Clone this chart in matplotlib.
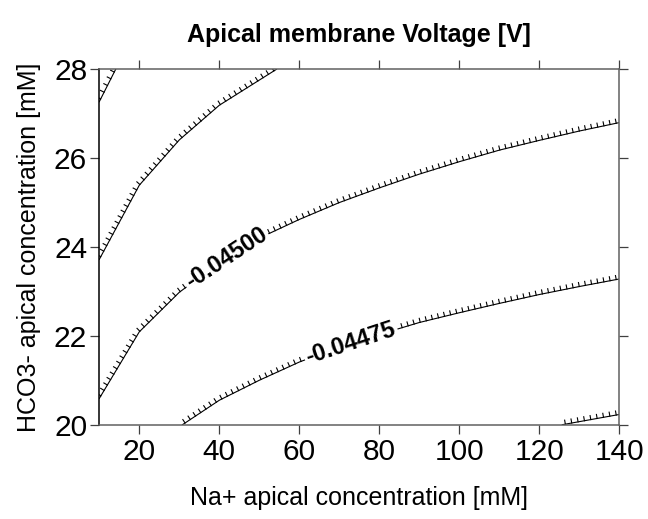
import numpy as np
import matplotlib
matplotlib.use("Agg")
import matplotlib.pyplot as plt
from matplotlib import patheffects

plt.rcParams['font.family'] = ['Liberation Sans', 'DejaVu Sans']

# contour lines of the apical membrane voltage
# (Na+ in mM along x, HCO3- in mM along y)
levels = [-0.04550, -0.04525, -0.04500, -0.04475, -0.04450]

na_4550 = [10, 14.1]
hco3_4550 = [27.27, 28.0]

na_4525 = [10, 20, 30, 40, 54.3]
hco3_4525 = [23.72, 25.39, 26.41, 27.19, 28.0]

na_4500 = [10, 20, 30, 40, 50, 60, 70, 80, 90, 100, 110, 120, 130, 140]
hco3_4500 = [20.59, 22.09, 22.98, 23.65, 24.2, 24.62, 25.0, 25.33, 25.64,
             25.92, 26.18, 26.4, 26.61, 26.8]

na_4475 = [30.8, 40, 50, 60, 70, 80, 90, 100, 110, 120, 130, 140]
hco3_4475 = [20.0, 20.55, 21.0, 21.41, 21.75, 22.03, 22.3, 22.52, 22.73,
             22.93, 23.11, 23.28]

na_4450 = [125.75, 140]
hco3_4450 = [20.0, 20.23]

lines_x = [na_4550, na_4525, na_4500, na_4475, na_4450]
lines_y = [hco3_4550, hco3_4525, hco3_4500, hco3_4475, hco3_4450]

# which lines carry a label, and where along x
label_lines = [2, 3]
label_at = [41.7, 72.9]

xticks = [20, 40, 60, 80, 100, 120, 140]
yticks = [20, 22, 24, 26, 28]

fig = plt.figure(figsize=(6.48, 5.19), dpi=100)
ax = fig.add_axes([0.1532, 0.1817, 0.8025, 0.6848])

ticked = [patheffects.withTickedStroke(angle=90, spacing=4.5, length=0.65)]
for xs, ys in zip(lines_x, lines_y):
    ax.plot(xs, ys, color='k', lw=0.8, path_effects=ticked, clip_on=True)

ax.set_xlim(10, 140)
ax.set_ylim(20, 28)

fig.canvas.draw()
for i, xl in zip(label_lines, label_at):
    xs = np.array(lines_x[i])
    ys = np.array(lines_y[i])
    yl = np.interp(xl, xs, ys)
    p1 = ax.transData.transform((xl - 6, np.interp(xl - 6, xs, ys)))
    p2 = ax.transData.transform((xl + 6, np.interp(xl + 6, xs, ys)))
    ang = np.degrees(np.arctan2(p2[1] - p1[1], p2[0] - p1[0]))
    ax.text(xl, yl, '%.5f' % levels[i], rotation=ang, rotation_mode='anchor',
            ha='center', va='center', fontsize=17, fontweight='bold', zorder=5,
            bbox=dict(facecolor='white', edgecolor='none', pad=1.5))

ax.set_xticks(xticks)
ax.set_yticks(yticks)
ax.tick_params(direction='out', length=6.3, width=0.9, labelsize=21.5,
               top=True, right=True, color='#404040')
ax.tick_params(axis='x', pad=3.6)
ax.tick_params(axis='y', pad=2.4)
for side in ['top', 'right', 'bottom']:
    ax.spines[side].set_color('#606060')
    ax.spines[side].set_linewidth(1.1)
ax.spines['left'].set_color('k')
ax.spines['left'].set_linewidth(1.1)

ax.set_xlabel('Na+ apical concentration [mM]', fontsize=18, labelpad=14)
ax.set_ylabel('HCO3- apical concentration [mM]', fontsize=18, labelpad=9)
ax.set_title('Apical membrane Voltage [V]', fontsize=18, fontweight='bold', pad=20)

fig.savefig('out.png', dpi=100)
